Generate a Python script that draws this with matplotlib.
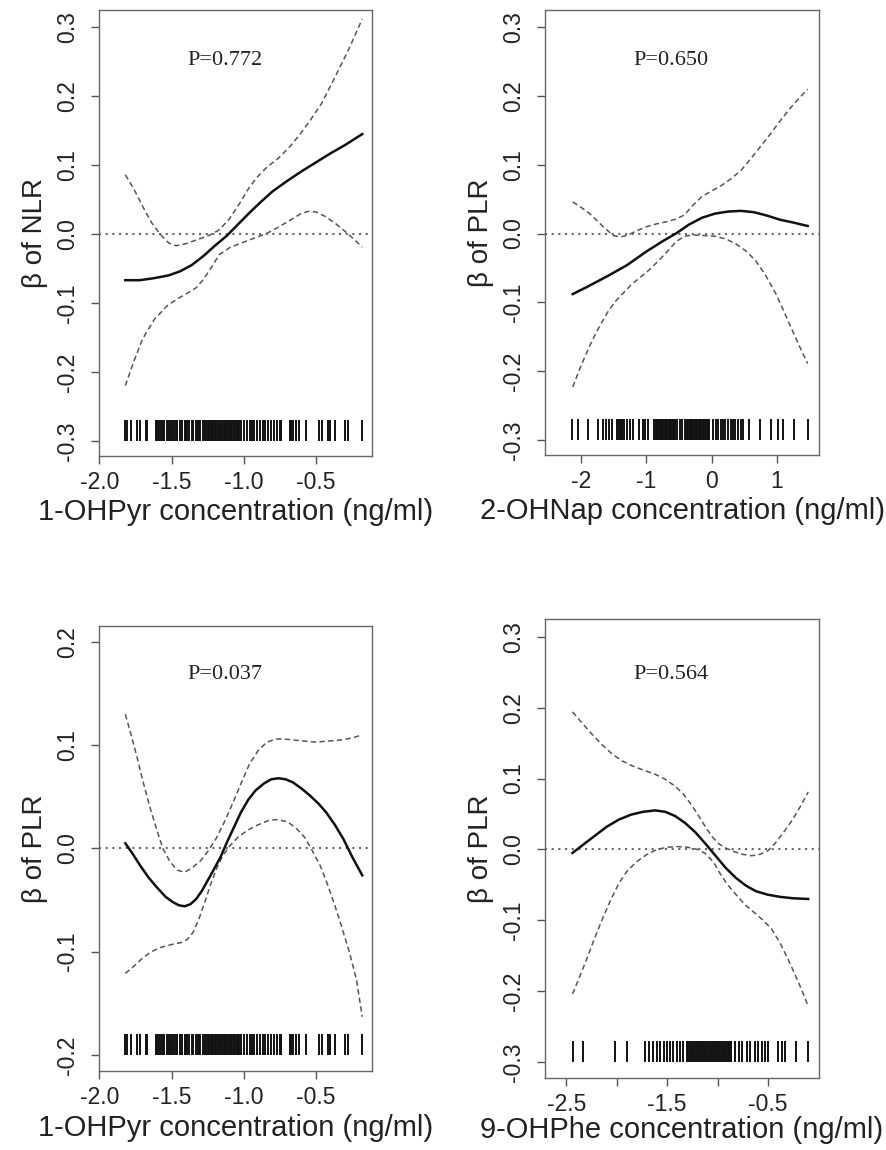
import matplotlib.pyplot as plt

plt.rcParams['font.family'] = ['Liberation Sans', 'DejaVu Sans']
plt.rcParams['axes.unicode_minus'] = False

# ---- panel A: 1-OHPyr vs NLR ----
a_fit_x = [-1.82, -1.72, -1.62, -1.52, -1.44, -1.36, -1.28, -1.20, -1.12, -1.04, -0.96, -0.88,
           -0.80, -0.70, -0.60, -0.50, -0.40, -0.30, -0.18]
a_fit_y = [-0.067, -0.067, -0.064, -0.060, -0.054, -0.045, -0.032, -0.017, -0.003, 0.014, 0.031,
           0.047, 0.062, 0.077, 0.091, 0.104, 0.117, 0.129, 0.145]
a_up_x = [-1.82, -1.76, -1.70, -1.64, -1.58, -1.52, -1.47, -1.40, -1.32, -1.24, -1.17, -1.10,
          -1.03, -0.97, -0.91, -0.84, -0.76, -0.68, -0.61, -0.54, -0.46, -0.38, -0.28, -0.18]
a_up_y = [0.086, 0.065, 0.040, 0.017, 0.000, -0.013, -0.017, -0.014, -0.008, -0.002, 0.006, 0.022,
          0.044, 0.065, 0.082, 0.097, 0.110, 0.127, 0.145, 0.165, 0.190, 0.223, 0.265, 0.312]
a_lo_x = [-1.82, -1.76, -1.70, -1.62, -1.53, -1.46, -1.40, -1.33, -1.28, -1.22, -1.17, -1.10,
          -1.03, -0.94, -0.84, -0.76, -0.68, -0.60, -0.55, -0.50, -0.44, -0.37, -0.30, -0.24, -0.18]
a_lo_y = [-0.220, -0.184, -0.152, -0.124, -0.104, -0.094, -0.087, -0.078, -0.066, -0.047, -0.030,
          -0.020, -0.014, -0.007, 0.001, 0.010, 0.020, 0.030, 0.033, 0.032, 0.026, 0.016, 0.004,
          -0.007, -0.019]

# ---- panel B: 2-OHNap vs PLR ----
b_fit_x = [-2.13, -1.90, -1.60, -1.30, -1.00, -0.75, -0.55, -0.35, -0.15, 0.05, 0.25, 0.45,
           0.65, 0.85, 1.05, 1.25, 1.47]
b_fit_y = [-0.088, -0.077, -0.062, -0.046, -0.026, -0.011, 0.000, 0.013, 0.023, 0.029, 0.032,
           0.033, 0.031, 0.026, 0.020, 0.016, 0.011]
b_up_x = [-2.13, -2.00, -1.87, -1.75, -1.62, -1.50, -1.40, -1.28, -1.15, -1.00, -0.85, -0.70,
          -0.55, -0.42, -0.30, -0.15, 0.00, 0.15, 0.30, 0.45, 0.60, 0.75, 0.90, 1.05, 1.20, 1.35, 1.47]
b_up_y = [0.046, 0.038, 0.029, 0.018, 0.006, -0.003, -0.005, -0.002, 0.004, 0.010, 0.014, 0.017,
          0.021, 0.027, 0.040, 0.054, 0.062, 0.070, 0.080, 0.092, 0.109, 0.127, 0.145, 0.164,
          0.182, 0.198, 0.210]
b_lo_x = [-2.13, -2.02, -1.92, -1.82, -1.72, -1.60, -1.48, -1.36, -1.24, -1.10, -0.96, -0.82,
          -0.68, -0.55, -0.42, -0.29, -0.10, 0.06, 0.22, 0.37, 0.52, 0.67, 0.82, 0.98, 1.10, 1.23,
          1.35, 1.47]
b_lo_y = [-0.223, -0.196, -0.174, -0.153, -0.135, -0.115, -0.099, -0.087, -0.075, -0.064, -0.053,
          -0.040, -0.026, -0.012, -0.004, -0.002, -0.003, -0.004, -0.008, -0.015, -0.025, -0.039,
          -0.060, -0.087, -0.112, -0.140, -0.165, -0.189]

# ---- panel C: 1-OHPyr vs PLR ----
c_fit_x = [-1.82, -1.77, -1.72, -1.66, -1.60, -1.54, -1.49, -1.45, -1.41, -1.37, -1.33, -1.29,
           -1.25, -1.21, -1.16, -1.12, -1.07, -1.02, -0.97, -0.92, -0.86, -0.81, -0.76, -0.71,
           -0.66, -0.60, -0.54, -0.48, -0.43, -0.37, -0.31, -0.25, -0.18]
c_fit_y = [0.005, -0.005, -0.016, -0.028, -0.038, -0.047, -0.052, -0.055, -0.056, -0.054, -0.049,
           -0.041, -0.031, -0.021, -0.008, 0.005, 0.020, 0.035, 0.047, 0.056, 0.063, 0.067, 0.068,
           0.067, 0.064, 0.058, 0.051, 0.043, 0.035, 0.023, 0.009, -0.008, -0.026]
c_up_x = [-1.82, -1.78, -1.74, -1.70, -1.65, -1.60, -1.56, -1.51, -1.46, -1.41, -1.36, -1.30,
          -1.25, -1.19, -1.13, -1.07, -1.01, -0.96, -0.90, -0.84, -0.78, -0.72, -0.65, -0.58,
          -0.50, -0.42, -0.33, -0.25, -0.18]
c_up_y = [0.130, 0.110, 0.089, 0.066, 0.040, 0.017, 0.000, -0.013, -0.021, -0.023, -0.019, -0.012,
          -0.003, 0.010, 0.027, 0.046, 0.066, 0.082, 0.095, 0.103, 0.106, 0.106, 0.105, 0.104,
          0.103, 0.104, 0.105, 0.107, 0.110]
c_lo_x = [-1.82, -1.76, -1.70, -1.64, -1.58, -1.50, -1.43, -1.39, -1.35, -1.31, -1.27, -1.23,
          -1.19, -1.15, -1.10, -1.04, -0.97, -0.90, -0.83, -0.77, -0.70, -0.64, -0.58, -0.53,
          -0.47, -0.42, -0.37, -0.32, -0.27, -0.22, -0.18]
c_lo_y = [-0.121, -0.114, -0.106, -0.100, -0.096, -0.093, -0.091, -0.088, -0.081, -0.068, -0.052,
          -0.035, -0.020, -0.008, 0.002, 0.011, 0.018, 0.023, 0.027, 0.028, 0.026, 0.020, 0.011,
          -0.001, -0.017, -0.035, -0.055, -0.077, -0.100, -0.127, -0.163]

# ---- panel D: 9-OHPhe vs PLR ----
d_fit_x = [-2.44, -2.34, -2.22, -2.10, -1.98, -1.86, -1.74, -1.62, -1.52, -1.42, -1.32, -1.22,
           -1.12, -1.02, -0.92, -0.82, -0.72, -0.62, -0.50, -0.38, -0.25, -0.10]
d_fit_y = [-0.005, 0.006, 0.019, 0.032, 0.042, 0.049, 0.053, 0.055, 0.053, 0.047, 0.037, 0.024,
           0.008, -0.009, -0.026, -0.040, -0.051, -0.059, -0.064, -0.067, -0.069, -0.070]
d_up_x = [-2.44, -2.35, -2.25, -2.15, -2.05, -1.95, -1.85, -1.74, -1.62, -1.52, -1.42, -1.34,
          -1.27, -1.20, -1.13, -1.06, -0.99, -0.92, -0.84, -0.75, -0.66, -0.58, -0.50, -0.42,
          -0.34, -0.26, -0.18, -0.10]
d_up_y = [0.194, 0.179, 0.163, 0.148, 0.135, 0.125, 0.118, 0.112, 0.106, 0.099, 0.089, 0.078,
          0.065, 0.050, 0.034, 0.019, 0.008, 0.002, -0.003, -0.007, -0.009, -0.007, -0.002, 0.010,
          0.025, 0.041, 0.060, 0.081]
d_lo_x = [-2.44, -2.37, -2.30, -2.22, -2.14, -2.06, -1.98, -1.90, -1.80, -1.70, -1.60, -1.50,
          -1.40, -1.30, -1.20, -1.12, -1.04, -0.98, -0.90, -0.81, -0.72, -0.62, -0.54, -0.46,
          -0.38, -0.30, -0.22, -0.16, -0.10]
d_lo_y = [-0.204, -0.180, -0.155, -0.125, -0.097, -0.071, -0.048, -0.031, -0.017, -0.007, 0.000,
          0.003, 0.004, 0.003, 0.000, -0.006, -0.018, -0.033, -0.050, -0.065, -0.079, -0.091,
          -0.101, -0.113, -0.132, -0.155, -0.180, -0.200, -0.221]

# rug (observed exposure values)
rug_1ohpyr = [-1.82, -1.81, -1.78, -1.74, -1.72, -1.68, -1.67,
              -1.61, -1.60, -1.59, -1.57, -1.56, -1.55, -1.53, -1.52, -1.51, -1.50, -1.48, -1.47,
              -1.46, -1.44, -1.43, -1.41, -1.40, -1.39, -1.38, -1.36, -1.35, -1.33, -1.32, -1.31,
              -1.30, -1.28, -1.27, -1.26, -1.25, -1.24, -1.23, -1.22, -1.21, -1.20, -1.19, -1.18,
              -1.17, -1.16, -1.15, -1.14, -1.13, -1.12, -1.11, -1.10, -1.09, -1.08, -1.07, -1.06,
              -1.05, -1.04, -1.03, -1.02, -1.00, -0.98, -0.96, -0.94, -0.93, -0.91, -0.89, -0.87,
              -0.85, -0.83, -0.81, -0.79, -0.77, -0.75, -0.74, -0.68, -0.67, -0.66, -0.64, -0.62,
              -0.57, -0.48, -0.46, -0.42, -0.40, -0.37, -0.30, -0.28, -0.18]
rug_2ohnap = [-2.14, -2.05, -1.89, -1.74, -1.67, -1.62, -1.58, -1.53, -1.45, -1.43, -1.41, -1.39,
              -1.37, -1.35, -1.30, -1.25, -1.20, -1.11, -1.06, -1.02, -0.97, -0.89, -0.86, -0.84,
              -0.82, -0.80, -0.78, -0.76, -0.74, -0.72, -0.70, -0.68, -0.66, -0.64, -0.62, -0.60,
              -0.58, -0.56, -0.53, -0.49, -0.45, -0.41, -0.38, -0.36, -0.34, -0.32, -0.30, -0.28,
              -0.26, -0.24, -0.22, -0.20, -0.18, -0.16, -0.14, -0.12, -0.10, -0.08, -0.06, -0.04,
              0.02, 0.06, 0.10, 0.14, 0.17, 0.21, 0.25, 0.29, 0.33, 0.36, 0.40, 0.45, 0.48, 0.57,
              0.74, 0.91, 1.02, 1.09, 1.26, 1.48]
rug_9ohphe = [-2.44, -2.34, -2.02, -1.90, -1.72, -1.68, -1.64, -1.60, -1.57, -1.53, -1.50, -1.47,
              -1.44, -1.40, -1.37, -1.34, -1.30, -1.29, -1.275, -1.26, -1.245, -1.23, -1.215, -1.20,
              -1.185, -1.17, -1.155, -1.14, -1.125, -1.11, -1.095, -1.08, -1.065, -1.05, -1.035,
              -1.02, -1.005, -0.99, -0.975, -0.96, -0.945, -0.93, -0.915, -0.90, -0.885, -0.87,
              -0.83, -0.79, -0.76, -0.71, -0.68, -0.63, -0.60, -0.56, -0.53, -0.50, -0.40, -0.36,
              -0.33, -0.22, -0.10]

p_values = ["P=0.772", "P=0.650", "P=0.037", "P=0.564"]
x_labels = ["1-OHPyr concentration (ng/ml)", "2-OHNap concentration (ng/ml)",
            "1-OHPyr concentration (ng/ml)", "9-OHPhe concentration (ng/ml)"]
y_labels = ["β of NLR", "β of PLR", "β of PLR", "β of PLR"]

panels = [
    dict(fit=(a_fit_x, a_fit_y), up=(a_up_x, a_up_y), lo=(a_lo_x, a_lo_y), rug=rug_1ohpyr,
         pos=[0.112, 0.6035, 0.3078, 0.3878], xlim=(-2.0, -0.11), ylim=(-0.322, 0.325),
         xt=[-2.0, -1.5, -1.0, -0.5], xtl=["-2.0", "-1.5", "-1.0", "-0.5"],
         yt=[-0.3, -0.2, -0.1, 0.0, 0.1, 0.2, 0.3], rug_y=(-0.30, -0.27), py=0.886, lp=3),
    dict(fit=(b_fit_x, b_fit_y), up=(b_up_x, b_up_y), lo=(b_lo_x, b_lo_y), rug=rug_2ohnap,
         pos=[0.6148, 0.6043, 0.3083, 0.3870], xlim=(-2.55, 1.64), ylim=(-0.322, 0.325),
         xt=[-2, -1, 0, 1], xtl=["-2", "-1", "0", "1"],
         yt=[-0.3, -0.2, -0.1, 0.0, 0.1, 0.2, 0.3], rug_y=(-0.30, -0.27), py=0.886, lp=3),
    dict(fit=(c_fit_x, c_fit_y), up=(c_up_x, c_up_y), lo=(c_lo_x, c_lo_y), rug=rug_1ohpyr,
         pos=[0.112, 0.0687, 0.3078, 0.3870], xlim=(-2.0, -0.11), ylim=(-0.2155, 0.2155),
         xt=[-2.0, -1.5, -1.0, -0.5], xtl=["-2.0", "-1.5", "-1.0", "-0.5"],
         yt=[-0.2, -0.1, 0.0, 0.1, 0.2], rug_y=(-0.20, -0.18), py=0.892, lp=4),
    dict(fit=(d_fit_x, d_fit_y), up=(d_up_x, d_up_y), lo=(d_lo_x, d_lo_y), rug=rug_9ohphe,
         pos=[0.6148, 0.0626, 0.3083, 0.3991], xlim=(-2.71, 0.005), ylim=(-0.3226, 0.325),
         xt=[-2.5, -2.0, -1.5, -1.0, -0.5], xtl=["-2.5", "", "-1.5", "", "-0.5"],
         yt=[-0.3, -0.2, -0.1, 0.0, 0.1, 0.2, 0.3], rug_y=(-0.30, -0.27), py=0.880, lp=0),
]

fig = plt.figure(figsize=(8.87, 11.5), dpi=100)

for i, p in enumerate(panels):
    ax = fig.add_axes(p["pos"])
    ax.axhline(0, color="#666666", lw=1.5, linestyle=(0, (1, 2.2)), zorder=1)
    ax.plot(*p["up"], color="#555555", lw=1.1, linestyle=(0, (3.5, 2.2)), zorder=2)
    ax.plot(*p["lo"], color="#555555", lw=1.1, linestyle=(0, (3.5, 2.2)), zorder=2)
    ax.plot(*p["fit"], color="#111111", lw=1.8, zorder=3)
    ax.vlines(p["rug"], p["rug_y"][0], p["rug_y"][1], color="#111111", lw=1.4, zorder=2)

    ax.set_xlim(*p["xlim"])
    ax.set_ylim(*p["ylim"])
    ax.set_xticks(p["xt"])
    ax.set_xticklabels(p["xtl"])
    ax.set_yticks(p["yt"])
    ax.set_yticklabels([f"{v:.1f}" for v in p["yt"]], rotation=90, va="center")

    for s in ax.spines.values():
        s.set_color("#666666")
        s.set_linewidth(1.0)
    ax.tick_params(axis="both", direction="out", length=5.5, width=1.0, color="#555555",
                   labelsize=16.5, labelcolor="#222222")
    ax.tick_params(axis="x", pad=5)
    ax.tick_params(axis="y", pad=9)

    ax.set_xlabel(x_labels[i], fontsize=21, color="#222222", labelpad=p["lp"])
    ax.set_ylabel(y_labels[i], fontsize=20, color="#222222", labelpad=6)

    ax.text(0.46, p["py"], p_values[i], transform=ax.transAxes, ha="center", va="center",
            fontsize=16, family=["Liberation Serif", "DejaVu Serif"], color="#222222")

fig.savefig("out.png", dpi=100)
